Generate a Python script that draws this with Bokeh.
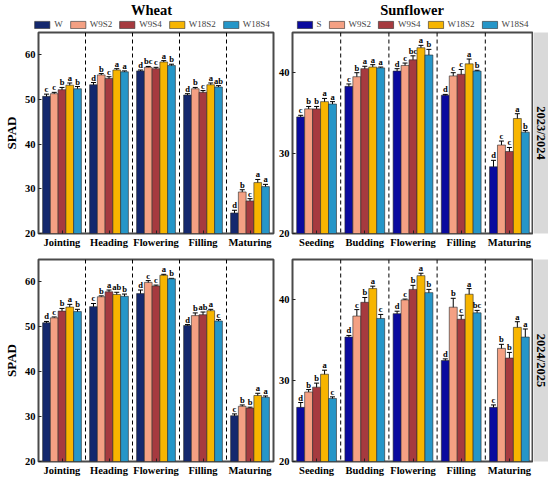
import math
from bokeh.plotting import figure
from bokeh.models import (ColumnDataSource, Legend, LegendItem, Span, FixedTicker,
                          Range1d, Whisker, TeeHead)
from bokeh.layouts import row, column
from bokeh.embed import file_html
from bokeh.resources import INLINE
from bokeh.core.properties import value

FONT = "Liberation Serif"

# ---------------- data ----------------
wheat_stages = ["Jointing", "Heading", "Flowering", "Filling", "Maturing"]
sun_stages = ["Seeding", "Budding", "Flowering", "Filling", "Maturing"]
wheat_treatments = ["W", "W9S2", "W9S4", "W18S2", "W18S4"]
sun_treatments = ["S", "W9S2", "W9S4", "W18S2", "W18S4"]
wheat_colors = ["#14286e", "#f4a083", "#a63a3f", "#f7b500", "#2596c8"]
sun_colors = ["#0a0a9e", "#f4a083", "#a63a3f", "#f7b500", "#2596c8"]

# rows = treatments, columns = stages
wheat_2023_mean = [[50.7, 53.3, 56.4, 51.0, 24.6],
                   [51.3, 55.5, 57.2, 52.4, 29.3],
                   [52.2, 54.7, 56.9, 51.6, 27.3],
                   [53.2, 56.6, 58.4, 53.3, 31.4],
                   [52.4, 56.2, 57.6, 52.8, 30.5]]
wheat_2023_err = [[0.5, 0.5, 0.2, 0.3, 0.6],
                  [0.3, 0.3, 0.2, 0.3, 0.5],
                  [0.5, 0.4, 0.3, 0.4, 0.5],
                  [0.5, 0.3, 0.3, 0.4, 0.7],
                  [0.5, 0.2, 0.3, 0.3, 0.5]]
wheat_2023_sig = [["c", "d", "d", "d", "d"],
                  ["c", "b", "bc", "b", "b"],
                  ["b", "c", "c", "c", "c"],
                  ["a", "a", "a", "a", "a"],
                  ["b", "a", "b", "ab", "a"]]

sun_2023_mean = [[34.5, 38.3, 40.2, 37.2, 28.3],
                 [35.5, 39.5, 40.9, 39.6, 31.0],
                 [35.5, 40.5, 41.6, 39.8, 30.2],
                 [36.4, 40.7, 43.1, 41.1, 34.3],
                 [36.1, 40.6, 42.2, 40.2, 32.6]]
sun_2023_err = [[0.2, 0.3, 0.3, 0.1, 0.8],
                [0.3, 0.5, 0.3, 0.4, 0.5],
                [0.3, 0.3, 0.5, 0.6, 0.5],
                [0.4, 0.3, 0.3, 0.6, 0.6],
                [0.3, 0.1, 0.7, 0.1, 0.2]]
sun_2023_sig = [["c", "c", "d", "d", "d"],
                ["b", "b", "c", "c", "c"],
                ["b", "a", "bc", "c", "c"],
                ["a", "a", "a", "a", "a"],
                ["a", "a", "b", "b", "b"]]

wheat_2024_mean = [[50.9, 54.5, 57.4, 50.3, 30.2],
                   [52.0, 56.7, 59.9, 52.5, 32.3],
                   [53.5, 57.8, 59.1, 52.7, 31.9],
                   [54.4, 57.2, 61.5, 53.6, 34.7],
                   [53.4, 56.8, 60.7, 51.3, 34.3]]
wheat_2024_err = [[0.3, 0.7, 0.8, 0.2, 0.4],
                  [0.2, 0.2, 0.4, 0.6, 0.3],
                  [0.6, 0.4, 0.2, 0.6, 0.2],
                  [0.6, 0.5, 0.2, 0.3, 0.5],
                  [0.5, 0.5, 0.1, 0.3, 0.3]]
wheat_2024_sig = [["d", "c", "d", "d", "c"],
                  ["c", "b", "c", "b", "b"],
                  ["b", "a", "c", "ab", "b"],
                  ["a", "ab", "a", "a", "a"],
                  ["b", "b", "b", "c", "a"]]

sun_2024_mean = [[26.7, 35.4, 38.3, 32.5, 26.7],
                 [28.6, 38.0, 40.0, 39.1, 34.0],
                 [29.2, 39.7, 41.3, 37.6, 32.8],
                 [30.8, 41.4, 43.0, 40.7, 36.6],
                 [27.8, 37.7, 40.9, 38.4, 35.4]]
sun_2024_err = [[0.6, 0.2, 0.3, 0.2, 0.3],
                [0.3, 0.8, 0.1, 1.1, 0.5],
                [0.5, 0.6, 0.5, 0.5, 0.7],
                [0.5, 0.3, 0.3, 0.7, 0.7],
                [0.2, 0.5, 0.4, 0.3, 1.0]]
sun_2024_sig = [["d", "d", "d", "d", "c"],
                ["b", "c", "c", "b", "b"],
                ["b", "b", "b", "c", "b"],
                ["a", "a", "a", "a", "a"],
                ["c", "c", "b", "bc", "a"]]

wheat_yticks = [20, 30, 40, 50, 60]
sun_yticks = [20, 30, 40]
wheat_ymax = 65
sun_ymax = 45
seasons = ["2023/2024", "2024/2025"]
crops = ["Wheat", "Sunflower"]
ylabel = "SPAD"


def make_panel(stages, treatments, colors, means, errs, sigs, ymax, yticks,
               width, height, bl, br, bt, bb, ylab=None):
    p = figure(width=width, height=height, x_range=Range1d(0, len(stages)),
               y_range=Range1d(20, ymax), output_backend="svg", toolbar_location=None,
               min_border_left=bl, min_border_right=br, min_border_top=bt,
               min_border_bottom=bb, background_fill_color="white",
               border_fill_color="white")
    p.xgrid.visible = False
    p.ygrid.visible = False
    p.outline_line_color = "#4a4a4a"
    p.outline_line_width = 2

    n = len(treatments)
    bw = 0.165
    for j, t in enumerate(treatments):
        xs = [i + 0.5 + (j - (n - 1) / 2) * bw for i in range(len(stages))]
        lo = [m - e for m, e in zip(means[j], errs[j])]
        hi = [m + e for m, e in zip(means[j], errs[j])]
        src = ColumnDataSource(dict(x=xs, top=means[j], lo=lo, hi=hi, lab=sigs[j]))
        p.vbar(x="x", top="top", bottom=20, width=bw, fill_color=colors[j],
               line_color="#2a2a2a", line_width=0.6, source=src)
        w = Whisker(base="x", upper="hi", lower="lo", source=src, dimension="height",
                    line_color="black", line_width=1,
                    upper_head=TeeHead(size=5, line_color="black", line_width=1),
                    lower_head=TeeHead(size=5, line_color="black", line_width=1))
        p.add_layout(w)
        p.text(x="x", y="hi", text="lab", source=src, text_align="center",
               text_baseline="bottom", text_font=value(FONT), text_font_style="bold",
               text_font_size="8.5px", text_color="black")

    for k in range(1, len(stages)):
        p.add_layout(Span(location=k, dimension="height", line_color="black",
                          line_width=1, line_dash="4 3"))

    p.xaxis.ticker = FixedTicker(ticks=[i + 0.5 for i in range(len(stages))])
    p.xaxis.major_label_overrides = {i + 0.5: s for i, s in enumerate(stages)}
    p.yaxis.ticker = FixedTicker(ticks=yticks)
    for ax in (p.xaxis[0], p.yaxis[0]):
        ax.axis_line_color = None
        ax.major_tick_in = 3
        ax.major_tick_out = 0
        ax.minor_tick_in = 0
        ax.minor_tick_out = 0
        ax.major_tick_line_color = "#222222"
        ax.major_label_text_font = FONT
        ax.major_label_text_font_style = "bold"
        ax.major_label_text_font_size = "10.5px"
        ax.major_label_text_color = "black"
        ax.major_label_standoff = 3
    if ylab:
        p.yaxis.axis_label = ylab
        p.yaxis.axis_label_text_font = FONT
        p.yaxis.axis_label_text_font_style = "bold"
        p.yaxis.axis_label_text_font_size = "13px"
        p.yaxis.axis_label_standoff = 3
        p.yaxis.axis_label_text_color = "black"
    return p


def make_header(title, treatments, colors, width, height, bl, br):
    h = figure(width=width, height=height, x_range=Range1d(0, 1), y_range=Range1d(0, 1),
               output_backend="svg", toolbar_location=None, min_border_left=bl,
               min_border_right=br, min_border_top=0, min_border_bottom=0,
               border_fill_color="white", background_fill_color="white")
    h.axis.visible = False
    h.xgrid.visible = False
    h.ygrid.visible = False
    h.outline_line_color = None
    h.text(x=[0.5], y=[1.0], text=[title], text_align="center", text_baseline="top",
           text_font=value(FONT), text_font_style="bold", text_font_size="14.5px",
           text_color="black", y_offset=1)
    rends = []
    for t, c in zip(treatments, colors):
        # legend-only renderer: a single NaN bar that is never drawn
        r = h.vbar(x=[float("nan")], top=[float("nan")], width=0.1, fill_color=c,
                   line_color="#2a2a2a", line_width=0.6)
        rends.append(r)
    lg = Legend(items=[LegendItem(label=t, renderers=[r]) for t, r in zip(treatments, rends)],
                orientation="horizontal", location="bottom_center",
                glyph_width=19, glyph_height=9, label_height=9, label_width=0,
                label_text_font=FONT, label_text_font_size="9px",
                label_standoff=3, spacing=5, padding=0, margin=1,
                border_line_color=None, background_fill_alpha=0)
    h.add_layout(lg)
    return h


def make_strip(label, height, bt, bb):
    s = figure(width=15, height=height, x_range=Range1d(0, 1), y_range=Range1d(0, 1),
               output_backend="svg", toolbar_location=None, min_border_left=0,
               min_border_right=0, min_border_top=bt, min_border_bottom=bb,
               background_fill_color="#d9d9d9", border_fill_color="white")
    s.axis.visible = False
    s.xgrid.visible = False
    s.ygrid.visible = False
    s.outline_line_color = None
    s.text(x=[0.5], y=[0.5], text=[label], angle=-math.pi / 2, text_align="center",
           text_baseline="middle", text_font=value(FONT), text_font_style="bold",
           text_font_size="12.5px", text_color="black")
    return s


HH, H1, H2 = 30, 220, 229
WL, WR, WS = 275, 258, 15

h1 = make_header(crops[0], wheat_treatments, wheat_colors, WL, HH, 29, 2)
h2 = make_header(crops[1], sun_treatments, sun_colors, WR + WS, HH, 15, WS)
p1 = make_panel(wheat_stages, wheat_treatments, wheat_colors, wheat_2023_mean, wheat_2023_err,
                wheat_2023_sig, wheat_ymax, wheat_yticks, WL, H1, 29, 2, 2, 17, ylab=ylabel)
p2 = make_panel(sun_stages, sun_treatments, sun_colors, sun_2023_mean, sun_2023_err,
                sun_2023_sig, sun_ymax, sun_yticks, WR, H1, 15, 0, 2, 17)
s1 = make_strip(seasons[0], H1, 2, 17)
p3 = make_panel(wheat_stages, wheat_treatments, wheat_colors, wheat_2024_mean, wheat_2024_err,
                wheat_2024_sig, wheat_ymax, wheat_yticks, WL, H2, 29, 2, 9, 18, ylab=ylabel)
p4 = make_panel(sun_stages, sun_treatments, sun_colors, sun_2024_mean, sun_2024_err,
                sun_2024_sig, sun_ymax, sun_yticks, WR, H2, 15, 0, 9, 18)
s2 = make_strip(seasons[1], H2, 9, 18)

layout = column(row(h1, h2, spacing=0),
                row(p1, p2, s1, spacing=0),
                row(p3, p4, s2, spacing=0), spacing=0)
open("out.html", "w").write(file_html(layout, INLINE))
